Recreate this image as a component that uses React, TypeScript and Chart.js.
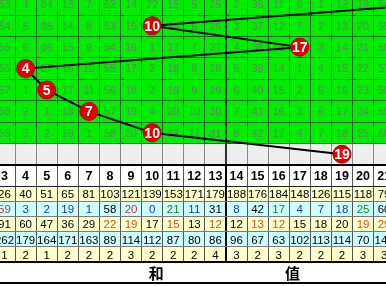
import React, { useEffect, useRef } from 'react';
import { Chart, registerables } from 'chart.js';

Chart.register(...registerables);

// ---- data ----
const columns = [3, 4, 5, 6, 7, 8, 9, 10, 11, 12, 13, 14, 15, 16, 17, 18, 19, 20, 21];
const trendValues = [23, 10, 17, 4, 5, 7, 10, 19];
const trendRows = [0, 1, 2, 3, 4, 5, 6, 7];

const missRow0 = [53, 4, 84, 13, 7, 52, 14, 22, 15, 5, 25, 2, 36, 11, 6, 1, 12, 19, 54];
const missRow1 = [54, 5, 85, 14, 8, 53, 15, null, 16, 6, 26, 3, 37, 12, 7, 2, 13, 20, 55];
const missRow2 = [55, 6, 86, 15, 9, 54, 16, 1, 17, 7, 27, 4, 38, 13, null, 3, 14, 21, 56];
const missRow3 = [56, null, 87, 16, 10, 55, 17, 2, 18, 8, 28, 5, 39, 14, 1, 4, 15, 22, 57];
const missRow4 = [57, 1, null, 17, 11, 56, 18, 3, 19, 9, 29, 6, 40, 15, 2, 5, 16, 23, 58];
const missRow5 = [58, 2, 1, 18, null, 57, 19, 4, 20, 10, 30, 7, 41, 16, 3, 6, 17, 24, 59];
const missRow6 = [59, 3, 2, 19, 1, 58, 20, null, 21, 11, 31, 8, 42, 17, 4, 7, 18, 25, 60];

const statFreq = [26, 40, 51, 65, 81, 103, 121, 139, 153, 171, 179, 188, 176, 184, 148, 126, 115, 118, 79];
const statCurrent = [59, 3, 2, 19, 1, 58, 20, 0, 21, 11, 31, 8, 42, 17, 4, 7, 18, 25, 60];
const statCurrentTone = ['r', 'b', 'b', 'b', 'b', 'k', 'r', 'b', 'g', 'b', 'k', 'b', 'k', 'g', 'b', 'b', 'b', 'g', 'k'];
const statMax = [91, 60, 47, 36, 29, 22, 19, 17, 15, 13, 12, 12, 13, 12, 15, 18, 20, 19, 29];
const statMaxTone = ['k', 'k', 'k', 'k', 'k', 'o', 'o', 'k', 'o', 'k', 'o', 'k', 'o', 'o', 'k', 'k', 'k', 'o', 'o'];
const statFourth = [262, 179, 164, 171, 163, 89, 114, 112, 87, 80, 86, 96, 67, 63, 102, 113, 114, 70, 142];
const statFifth = [1, 2, 1, 2, 2, 2, 3, 2, 2, 2, 4, 3, 2, 3, 2, 2, 2, 3, 3];
const footerLabels = ['和', '值'];

// ---- style ----
const FONT = '"Liberation Sans", Arial, sans-serif';
const GREEN = '#00ec00';
const GREEN_LINE = '#1d641d';
const GREEN_TEXT = '#5a8a5a';
const TONES: Record<string, string> = { k: '#000000', r: '#c83232', b: '#1a38a8', g: '#118811', o: '#cc5522' };
const TABLE_ROW = 0.7068;

const tablePlugin = {
  id: 'trendTable',
  beforeDatasetsDraw(chart: any) {
    const ctx = chart.ctx as CanvasRenderingContext2D;
    const xs = chart.scales.x;
    const ys = chart.scales.y;
    const W = chart.width;
    const H = chart.height;
    const X = (v: number) => xs.getPixelForValue(v);
    const Y = (v: number) => ys.getPixelForValue(v);
    const crisp = (p: number) => Math.round(p) + 0.5;
    const missRows = [missRow0, missRow1, missRow2, missRow3, missRow4, missRow5, missRow6];
    const nRows = missRows.length;
    const statRows = [statFreq, statCurrent, statMax, statFourth, statFifth];
    const statTones = [null, statCurrentTone, statMaxTone, null, null];
    const statBg = ['#ffffcc', '#ccffff', '#ffffcc', '#ccffff', '#ffffcc'];

    const greenTop = Y(-0.5);
    const greenBot = Y(nRows - 0.5);
    const grayBot = Y(nRows + 0.5);
    const headBot = Y(nRows + 1.5);
    const rowB = (k: number) => Y(nRows + 1.5 + k * TABLE_ROW);
    const tableBot = rowB(statRows.length);
    const footBot = Y(nRows + 1.5 + statRows.length * TABLE_ROW + 0.985);

    ctx.save();
    ctx.fillStyle = '#ffffff';
    ctx.fillRect(0, 0, W, H);
    ctx.fillStyle = GREEN;
    ctx.fillRect(0, greenTop, W, greenBot - greenTop);
    ctx.fillStyle = '#eeeeee';
    ctx.fillRect(0, greenBot, W, grayBot - greenBot);
    statRows.forEach((_, k) => {
      ctx.fillStyle = statBg[k];
      ctx.fillRect(0, rowB(k), W, rowB(k + 1) - rowB(k));
    });

    // green grid horizontal lines
    ctx.lineWidth = 1;
    ctx.strokeStyle = GREEN_LINE;
    for (let r = 0; r < nRows; r++) {
      const y = crisp(Y(r + 0.5) - 0.5);
      ctx.beginPath();
      ctx.moveTo(0, y);
      ctx.lineTo(W, y);
      ctx.stroke();
    }
    // vertical lines
    for (let i = 0; i < columns.length - 1; i++) {
      const v = columns[i] + 0.5;
      const thick = v === 13.5;
      const x = thick ? Math.round(X(v)) : crisp(X(v) - 0.5);
      ctx.lineWidth = thick ? 2 : 1;
      ctx.strokeStyle = thick ? '#0c3a0c' : GREEN_LINE;
      ctx.beginPath();
      ctx.moveTo(x, greenTop);
      ctx.lineTo(x, greenBot);
      ctx.stroke();
      ctx.strokeStyle = thick ? '#333333' : '#8a8a8a';
      ctx.beginPath();
      ctx.moveTo(x, greenBot);
      ctx.lineTo(x, grayBot);
      ctx.stroke();
      ctx.strokeStyle = thick ? '#000000' : '#555555';
      ctx.beginPath();
      ctx.moveTo(x, grayBot);
      ctx.lineTo(x, tableBot);
      ctx.stroke();
    }

    const hline = (y: number, w: number, c: string) => {
      ctx.lineWidth = w;
      ctx.strokeStyle = c;
      const yy = w % 2 === 1 ? crisp(y - 0.5) : Math.round(y);
      ctx.beginPath();
      ctx.moveTo(0, yy);
      ctx.lineTo(W, yy);
      ctx.stroke();
    };
    hline(grayBot, 2, '#000000');
    hline(headBot, 1, '#222222');
    for (let k = 1; k < statRows.length; k++) hline(rowB(k), 1, '#7a7a7a');
    hline(tableBot, 2, '#000000');
    hline(footBot, 2, '#000000');

    // green cell numbers
    ctx.textAlign = 'center';
    ctx.textBaseline = 'middle';
    ctx.font = `10.5px ${FONT}`;
    ctx.fillStyle = GREEN_TEXT;
    missRows.forEach((row, r) => {
      row.forEach((val, i) => {
        if (val === null) return;
        ctx.fillText(String(val), X(columns[i]), Y(r) + 1);
      });
    });

    // header numbers
    ctx.font = `bold 12.5px ${FONT}`;
    ctx.fillStyle = '#000000';
    columns.forEach((c) => {
      ctx.fillText(String(c), X(c), (grayBot + headBot) / 2 + 1);
    });

    // stat rows
    ctx.font = `11.5px ${FONT}`;
    statRows.forEach((row, k) => {
      const yc = (rowB(k) + rowB(k + 1)) / 2 + 1;
      const tones = statTones[k];
      row.forEach((val, i) => {
        ctx.fillStyle = tones ? TONES[tones[i]] : '#000000';
        ctx.fillText(String(val), X(columns[i]), yc);
      });
    });

    // footer labels
    ctx.font = `bold 15px "Noto Sans CJK SC", sans-serif`;
    ctx.fillStyle = '#000000';
    const fy = (tableBot + footBot) / 2 + 1;
    ctx.fillText(footerLabels[0], X(10.2), fy);
    ctx.fillText(footerLabels[1], X(16.65), fy);
    ctx.restore();
  },
  afterDatasetsDraw(chart: any) {
    const ctx = chart.ctx as CanvasRenderingContext2D;
    const meta = chart.getDatasetMeta(0);
    ctx.save();
    ctx.font = `bold 14px ${FONT}`;
    ctx.fillStyle = '#ffffff';
    ctx.textAlign = 'center';
    ctx.textBaseline = 'middle';
    meta.data.forEach((el: any, i: number) => {
      ctx.fillText(String(trendValues[i]), el.x, el.y + 1);
    });
    ctx.restore();
  },
};

export default function App() {
  const ref = useRef<HTMLCanvasElement | null>(null);
  useEffect(() => {
    if (!ref.current) return;
    const colW = 21.09;
    const rowH = 21.42;
    const xMin = columns[0] - 4.5 / colW;
    const xMax = xMin + 386 / colW;
    const yMin = -4.29 / rowH;
    const yMax = yMin + 286 / rowH;
    const chart = new Chart(ref.current, {
      type: 'scatter',
      data: {
        datasets: [
          {
            data: trendValues.map((v, i) => ({ x: v, y: trendRows[i] })),
            showLine: true,
            borderColor: '#000000',
            borderWidth: 2,
            tension: 0,
            pointRadius: 9,
            pointHoverRadius: 9,
            pointBackgroundColor: '#e00000',
            pointBorderColor: '#b80000',
            pointBorderWidth: 1,
            clip: false,
          },
        ],
      },
      options: {
        animation: false,
        responsive: false,
        devicePixelRatio: 1,
        events: [],
        layout: { padding: 0, autoPadding: false },
        plugins: { legend: { display: false }, tooltip: { enabled: false } },
        scales: {
          x: { type: 'linear', min: xMin, max: xMax, display: false },
          y: { type: 'linear', min: yMin, max: yMax, reverse: true, display: false },
        },
      },
      plugins: [tablePlugin],
    });
    return () => chart.destroy();
  }, []);
  return (
    <div style={{ position: 'fixed', left: 0, top: 0, width: 386, height: 286 }}>
      <canvas ref={ref} width={386} height={286} style={{ display: 'block' }} />
    </div>
  );
}
